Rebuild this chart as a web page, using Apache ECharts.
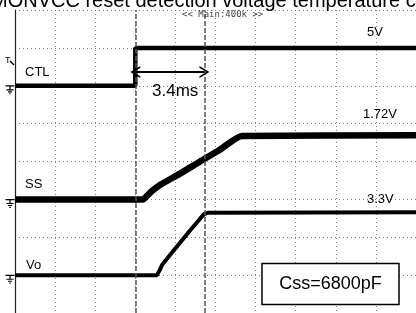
<!DOCTYPE html>
<html>
<head>
<meta charset="utf-8">
<script src="https://cdn.jsdelivr.net/npm/echarts@6/dist/echarts.min.js"></script>
<style>
  html, body { margin: 0; padding: 0; background: #fff; }
  #chart { width: 416px; height: 313px; }
</style>
</head>
<body>
<div id="chart"></div>
<script>
// time in ms (2 ms/div), level in divisions (0 = bottom of screen)
var ctlTime = [0, 6.0, 6.0, 20];
var ctlLevel = [6.0, 6.0, 7.0, 7.0];
var ssTime = [0, 6.38, 6.58, 6.83, 7.23, 8.23, 9.23, 10.22, 11.32, 20];
var ssLevel = [3.0, 3.0, 3.09, 3.22, 3.38, 3.68, 4.0, 4.31, 4.675, 4.69];
var voTime = [0, 7.08, 7.23, 7.33, 7.73, 8.23, 8.73, 9.23, 9.43, 9.63, 20];
var voLevel = [1.0, 1.0, 1.14, 1.27, 1.53, 1.855, 2.18, 2.49, 2.61, 2.65, 2.66];
var groundLevels = [6.0, 3.0, 1.0];
var cursorTimes = [6.0, 9.45];
var arrowLevel = 6.36;

function pairs(xs, ys) {
  return xs.map(function (x, i) { return [x, ys[i]]; });
}

var groundPath = 'path://M0,0h10v1.4h-10z M4.3,1.4h1.4v3h-1.4z M1,4.4h8v1.3h-8z M2.8,6.6h4.4v1.2h-4.4z M4.2,8.6h1.6v1.2h-1.6z';
var chevron = 'path://M0,10 L6,0 L12,10 L10.2,10 L6,3 L1.8,10 Z';

function groundMark(level) {
  return {
    silent: true,
    symbol: groundPath,
    symbolSize: [9, 9],
    symbolOffset: [-5, 4],
    itemStyle: { color: '#000' },
    label: { show: false },
    data: [{ coord: [0, level] }]
  };
}

var myChart = echarts.init(document.getElementById('chart'));
myChart.setOption({
  animation: false,
  backgroundColor: '#fff',
  grid: { left: 15, top: 10, width: 401, height: 308 },
  xAxis: {
    type: 'value',
    position: 'top',
    min: 0,
    max: 20,
    interval: 2,
    axisLine: { show: true, lineStyle: { color: '#222', width: 1 } },
    axisTick: { show: false },
    axisLabel: { show: false },
    splitLine: { show: true, lineStyle: { color: '#808080', width: 1, type: [1, 3] } }
  },
  yAxis: {
    type: 'value',
    min: 0,
    max: 8,
    interval: 1,
    axisLine: { show: true, lineStyle: { color: '#222', width: 1.2 } },
    axisTick: { show: false },
    axisLabel: { show: false },
    splitLine: { show: true, lineStyle: { color: '#808080', width: 1, type: [1, 3] } }
  },
  series: [
    {
      name: 'CTL',
      type: 'line',
      data: pairs(ctlTime, ctlLevel),
      showSymbol: false,
      lineStyle: { color: '#000', width: 4.5 },
      markPoint: groundMark(groundLevels[0]),
      markLine: {
        silent: true,
        symbol: 'none',
        label: { show: false },
        lineStyle: { color: '#555', width: 1.5, type: [5, 2] },
        data: cursorTimes.map(function (t) { return { xAxis: t }; })
      }
    },
    {
      name: 'SS',
      type: 'line',
      data: pairs(ssTime, ssLevel),
      showSymbol: false,
      smooth: 0.2,
      lineStyle: { color: '#000', width: 6.5 },
      markPoint: groundMark(groundLevels[1]),
      markLine: {
        silent: true,
        symbol: [chevron, chevron],
        symbolSize: [12, 10],
        label: { show: false },
        lineStyle: { color: '#000', width: 2, type: 'solid' },
        data: [[{ coord: [cursorTimes[0], arrowLevel] }, { coord: [cursorTimes[1], arrowLevel] }]]
      }
    },
    {
      name: 'Vo',
      type: 'line',
      data: pairs(voTime, voLevel),
      showSymbol: false,
      lineStyle: { color: '#000', width: 4 },
      markPoint: groundMark(groundLevels[2])
    }
  ],
  graphic: [
    { type: 'text', left: -9, top: -9, z: 10,
      style: { text: 'MONVCC reset detection voltage temperature characteristics', font: '20px "Liberation Sans", Arial', fill: '#000' } },
    { type: 'text', x: 182, y: 15, z: 10,
      style: { text: '<< Main:400k >>', font: '9px "DejaVu Sans Mono", monospace', fill: '#444', verticalAlign: 'middle' } },
    { type: 'text', x: 5, y: 61, z: 10,
      style: { text: 'T', font: '9px "Liberation Sans", Arial', fill: '#000', verticalAlign: 'middle' } },
    { type: 'polyline', z: 10, shape: { points: [[10, 61], [14, 65]] }, style: { stroke: '#000', lineWidth: 1.2 } },
    { type: 'text', x: 25, y: 72, z: 10,
      style: { text: 'CTL', font: '13px "Liberation Sans", Arial', fill: '#000', verticalAlign: 'middle' } },
    { type: 'text', x: 25, y: 184, z: 10,
      style: { text: 'SS', font: '13px "Liberation Sans", Arial', fill: '#000', verticalAlign: 'middle' } },
    { type: 'text', x: 26, y: 265, z: 10,
      style: { text: 'Vo', font: '13px "Liberation Sans", Arial', fill: '#000', verticalAlign: 'middle' } },
    { type: 'text', x: 367, y: 32, z: 10,
      style: { text: '5V', font: '13px "Liberation Sans", Arial', fill: '#000', verticalAlign: 'middle' } },
    { type: 'text', x: 363, y: 114, z: 10,
      style: { text: '1.72V', font: '13px "Liberation Sans", Arial', fill: '#000', verticalAlign: 'middle' } },
    { type: 'text', x: 367, y: 199.5, z: 10,
      style: { text: '3.3V', font: '13px "Liberation Sans", Arial', fill: '#000', verticalAlign: 'middle' } },
    { type: 'text', x: 152, y: 91, z: 10,
      style: { text: '3.4ms', font: '17px "Liberation Sans", Arial', fill: '#000', verticalAlign: 'middle' } },
    { type: 'rect', z: 10, shape: { x: 262, y: 263.5, width: 137, height: 41 },
      style: { fill: '#fff', stroke: '#000', lineWidth: 1.5 } },
    { type: 'text', x: 330.5, y: 284, z: 11,
      style: { text: 'Css=6800pF', font: '18px "Liberation Sans", Arial', fill: '#000', align: 'center', verticalAlign: 'middle' } }
  ]
});
</script>
</body>
</html>
